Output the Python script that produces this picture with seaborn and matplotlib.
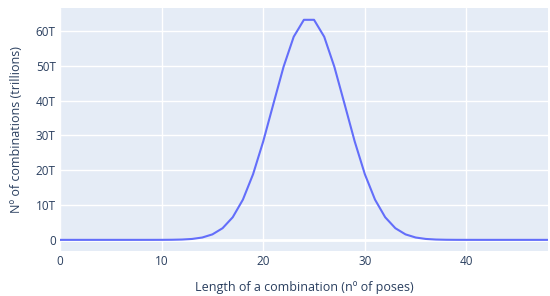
import matplotlib
matplotlib.use("Agg")
import matplotlib.pyplot as plt
import seaborn as sns
import pandas as pd

# длина комбинации (число поз)
lengths = list(range(0, 49))
# число комбинаций, в триллионах
combos_t = [0, 0, 0, 0, 0, 0, 0, 0, 0.0004, 0.002,
            0.008, 0.029, 0.092, 0.263, 0.675, 1.576, 3.348, 6.499, 11.554, 18.852,
            28.278, 39.050, 49.700, 58.343, 63.205, 63.205, 58.343, 49.700, 39.050, 28.278,
            18.852, 11.554, 6.499, 3.348, 1.576, 0.675, 0.263, 0.092, 0.029, 0.008,
            0.002, 0.0004, 0, 0, 0, 0, 0, 0, 0]
y_ticks = [0, 10, 20, 30, 40, 50, 60]
y_tick_labels = ["0", "10T", "20T", "30T", "40T", "50T", "60T"]
x_ticks = [0, 10, 20, 30, 40]

df = pd.DataFrame({"length": lengths, "combos": combos_t})

text_col = "#2a3f5f"
sns.set_theme(style="darkgrid", rc={
    "axes.facecolor": "#E5ECF6",
    "grid.color": "white",
    "grid.linewidth": 1.0,
    "axes.edgecolor": "#E5ECF6",
})
plt.rcParams["font.family"] = ["Open Sans", "DejaVu Sans"]

fig = plt.figure(figsize=(5.5, 2.96), dpi=100)
ax = fig.add_axes([0.109, 0.152, 0.887, 0.821])
sns.lineplot(data=df, x="length", y="combos", ax=ax, color="#636EFA", linewidth=1.5)

ax.set_xlim(0, 48)
ax.set_ylim(-3.2, 66.6)
ax.set_xticks(x_ticks)
ax.set_xticklabels([str(t) for t in x_ticks], color=text_col, fontsize=8.5)
ax.set_yticks(y_ticks)
ax.set_yticklabels(y_tick_labels, color=text_col, fontsize=8.5)
ax.tick_params(axis="x", length=0, pad=3)
ax.tick_params(axis="y", length=0, pad=3)
ax.axhline(0, color="white", linewidth=2, zorder=1)
ax.set_xlabel("Length of a combination (nº of poses)", color=text_col, fontsize=9, labelpad=9)
ax.set_ylabel("Nº of combinations (trillions)", color=text_col, fontsize=9, labelpad=9)
for s in ax.spines.values():
    s.set_visible(False)

fig.savefig("out.png", dpi=100)
